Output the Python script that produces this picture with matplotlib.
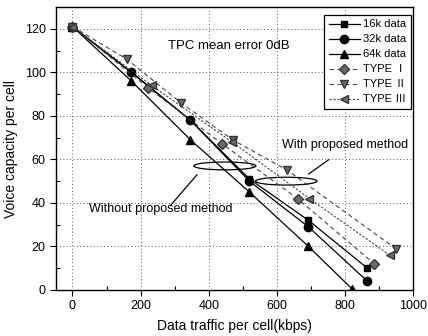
import matplotlib
matplotlib.use('Agg')
import matplotlib.pyplot as plt
from matplotlib.patches import Ellipse

plt.rcParams['font.family'] = ['Liberation Sans', 'Noto Sans CJK JP', 'DejaVu Sans']

# data
x_data = [0, 173, 346, 519, 692, 865]
y_16k = [121, 100, 78, 51, 32, 10]
y_32k = [121, 100, 78, 50, 29, 4]
x_64k = [0, 173, 346, 519, 692, 820]
y_64k = [121, 96, 69, 45, 20, 0.5]

x_type1 = [0, 221, 440, 660, 885]
y_type1 = [121, 93, 67, 42, 12]
x_type2 = [0, 160, 318, 470, 630, 948]
y_type2 = [121, 106, 86, 69, 55, 19]
x_type3 = [0, 232, 468, 695, 930]
y_type3 = [121, 94, 68, 42, 16]

x_ticks = [0, 200, 400, 600, 800, 1000]
y_ticks = [0, 20, 40, 60, 80, 100, 120]


def main():
    fig = plt.figure(figsize=(4.28, 3.36), dpi=100)
    ax = fig.add_axes([0.131, 0.137, 0.835, 0.842])

    ax.plot(x_data, y_16k, '-s', color='black', lw=0.9, ms=5, label='16k data')
    ax.plot(x_data, y_32k, '-o', color='black', lw=0.9, ms=6, label='32k data')
    ax.plot(x_64k, y_64k, '-^', color='black', lw=0.9, ms=6, label='64k data')

    gray = '#6a6a6a'
    ax.plot(x_type1, y_type1, linestyle=(0, (4, 3)), marker='D', color='#444444',
            mfc=gray, mec='#333333', lw=0.8, ms=5, label='TYPE Ⅰ')
    ax.plot(x_type2, y_type2, linestyle=(0, (4, 3)), marker='v', color='#444444',
            mfc=gray, mec='#333333', lw=0.8, ms=6, label='TYPE Ⅱ')
    ax.plot(x_type3, y_type3, linestyle=(0, (2, 1.5)), marker='<', color='#444444',
            mfc=gray, mec='#333333', lw=0.8, ms=6, label='TYPE Ⅲ')

    ax.set_xlim(-48, 1000)
    ax.set_ylim(0, 130)
    ax.set_xticks(x_ticks)
    ax.set_yticks(y_ticks)
    ax.set_xticks(range(100, 1000, 200), minor=True)
    ax.set_yticks(range(10, 130, 20), minor=True)
    ax.tick_params(which='major', direction='out', length=4, labelsize=9, width=0.8)
    ax.tick_params(which='minor', direction='in', length=3, width=0.8)
    ax.grid(True, which='major', linestyle=(0, (1, 2.5)), color='#555555', lw=0.7)
    for s in ax.spines.values():
        s.set_linewidth(1.0)

    ax.set_xlabel('Data traffic per cell(kbps)', fontsize=10, labelpad=5)
    ax.set_ylabel('Voice capacity per cell', fontsize=10, labelpad=5)

    ax.text(460, 112, 'TPC mean error 0dB', fontsize=9.5, ha='center', va='center')
    ax.text(800, 66.5, 'With proposed method', fontsize=9, ha='center', va='center')
    ax.text(260, 37, 'Without proposed method', fontsize=9, ha='center', va='center')

    ax.add_patch(Ellipse((447, 57), 182, 3.6, fill=False, lw=0.9, color='black'))
    ax.add_patch(Ellipse((627, 50), 180, 3.6, fill=False, lw=0.9, color='black'))
    ax.plot([693, 751], [53.3, 59.8], color='black', lw=0.9)
    ax.plot([365, 289], [52.9, 39.1], color='black', lw=0.9)

    leg = ax.legend(loc='upper right', bbox_to_anchor=(0.993, 0.972), borderaxespad=0,
                    fontsize=8, frameon=True, fancybox=False, edgecolor='black',
                    handlelength=2.8, labelspacing=0.45, handletextpad=0.3,
                    borderpad=0.4)
    leg.get_frame().set_linewidth(0.9)
    leg.get_frame().set_alpha(1)

    fig.savefig('out.png', dpi=100)


if __name__ == "__main__":
    main()
